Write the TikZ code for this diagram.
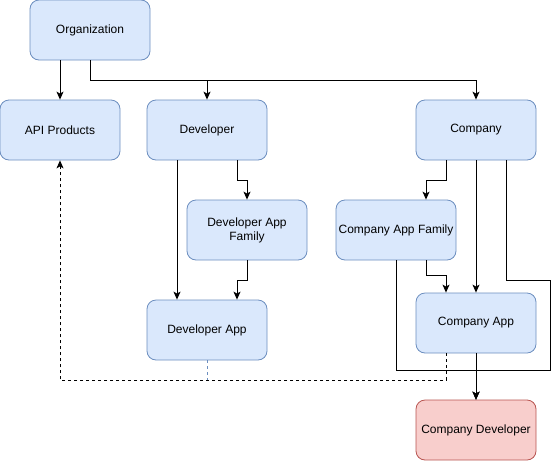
\documentclass[tikz,border=0pt]{standalone}
\usepackage{fontspec}
\setmainfont{Liberation Sans}
\usetikzlibrary{arrows.meta}
\definecolor{bfill}{HTML}{DAE8FC}
\definecolor{bline}{HTML}{6C8EBF}
\definecolor{rfill}{HTML}{F8CECC}
\definecolor{rline}{HTML}{B85450}
\tikzset{
  box/.style={draw=bline,fill=bfill,rounded corners=9pt,minimum width=120pt,minimum height=60pt,inner sep=2pt,align=center,font=\fontsize{12pt}{14pt}\selectfont,line width=0.8pt},
  redbox/.style={box,draw=rline,fill=rfill},
  arr/.style={-{Stealth[length=8pt,width=7pt,inset=2pt]},line width=1pt},
  dsh/.style={dash pattern=on 3pt off 3pt}
}
\begin{document}
\begin{tikzpicture}[x=1pt,y=-1pt]
\useasboundingbox (0,0) rectangle (559,461);
\node[box] (org) at (90,30) {Organization};
\node[box] (api) at (60,130) {API Products};
\node[box] (dev) at (207,130) {Developer};
\node[box] (comp) at (476,130) {Company};
\node[box] (daf) at (247,230) {Developer App\\Family};
\node[box] (caf) at (396,230) {Company App Family};
\node[box] (devapp) at (207,330) {Developer App};
\node[box] (capp) at (476,323) {Company App};
\node[redbox] (cdev) at (476,430) {Company Developer};
\coordinate (r1) at (550,280);
\coordinate (r2) at (550,370);

\draw[arr] ([xshift=-30pt]org.south) -- (api.north);
\draw[arr] (org.south) -- ++(0,20) -| (comp.north);
\draw[arr] (org.south) -- ++(0,20) -| (dev.north);
\draw[arr] ([xshift=-30pt]dev.south) -- ([xshift=-30pt]devapp.north);
\draw[arr] ([xshift=30pt]dev.south) -- ++(0,20) -| (daf.north);
\draw[arr] (daf.south) -- ++(0,20) -| ([xshift=30pt]devapp.north);
\draw[arr] ([xshift=-30pt]comp.south) -- ++(0,20) -| ([xshift=30pt]caf.north);
\draw[arr] (comp.south) -- (capp.north);
\draw[arr] ([xshift=30pt]comp.south) |- (r1) -- (r2) -| (cdev.north);
\draw[arr] (caf.south) -- (caf.south |- r2) -| (cdev.north);
\draw[arr] ([xshift=30pt]caf.south) -- ++(0,15) -| ([xshift=-30pt]capp.north);
\draw[arr] (capp.south) -- (cdev.north);
\draw[arr,dsh] ([xshift=-30pt]capp.south) -- ++(0,27) -| (api.south);
\draw[dsh,draw=bline,line width=0.8pt] (devapp.south) -- ++(0,20);
\end{tikzpicture}
\end{document}
